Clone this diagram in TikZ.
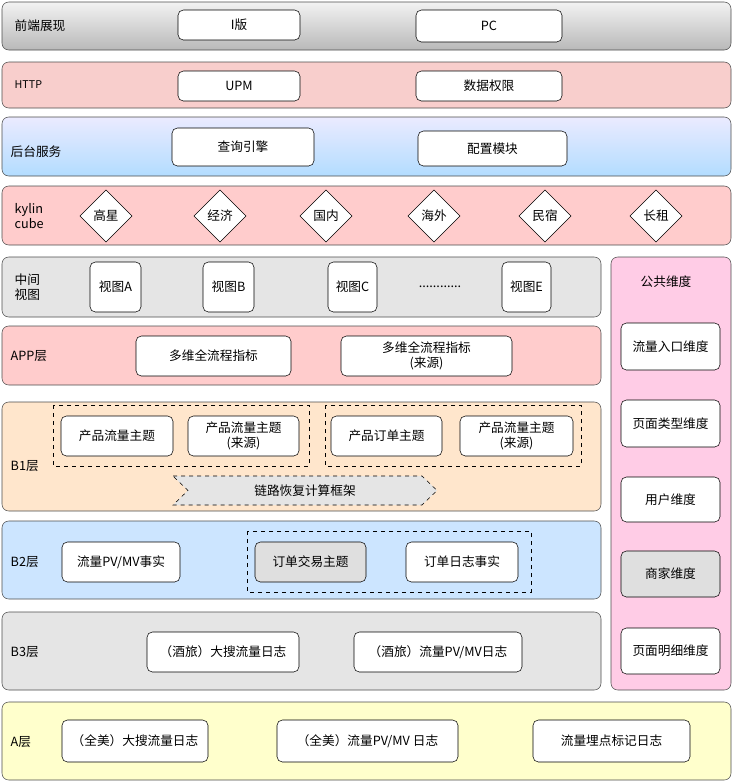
\documentclass[tikz,border=0pt]{standalone}
\usepackage{fontspec}
\setmainfont{Liberation Sans}
\newfontfamily\cjk{Noto Sans CJK SC}
\usetikzlibrary{shapes.geometric,shapes.symbols}
\begin{document}
\begin{tikzpicture}[x=0.75pt,y=-0.75pt,font=\cjk\fontsize{9.5}{11}\selectfont,
 layer/.style={draw=black!70,rounded corners=5pt},
 bx/.style={draw=black,fill=white,rounded corners=4pt,align=center,inner sep=0pt},
 grp/.style={draw=black,dashed},
 dia/.style={draw=black,fill=white,diamond,minimum width=52*0.75pt,minimum height=52*0.75pt,inner sep=0pt},
 lbl/.style={anchor=west,align=left}]
\useasboundingbox (0,0) rectangle (733,783);
\newcommand\bxat[6]{\node[bx,minimum width=(#3-#2)*0.75pt,minimum height=(#5-#4)*0.75pt] (#1) at ({(#2+#3)/2},{(#4+#5)/2}) {#6};}
% layer 1
\path[layer,top color=gray!10,bottom color=gray!55] (2,2) rectangle (731,50);
\node[lbl] (l1) at (10,26) {前端展现};
\bxat{b1a}{178}{300}{10}{40}{I版}
\bxat{b1b}{416}{562}{10}{42}{PC}
% layer 2
\path[layer,fill={rgb,255:red,248;green,206;blue,204}] (2,62) rectangle (731,108);
\node[lbl] (l2) at (10,85) {\fontsize{8}{10}\selectfont HTTP};
\bxat{b2a}{178}{300}{71}{101}{UPM}
\bxat{b2b}{416}{562}{71}{101}{数据权限}
% layer 3
\path[layer,top color=blue!8,bottom color=blue!45!cyan!30] (2,117) rectangle (731,176);
\node[lbl] (l3) at (6,152) {后台服务};
\bxat{b3a}{172}{314}{128}{166}{查询引擎}
\bxat{b3b}{418}{567}{131}{166}{配置模块}
% layer 4
\path[layer,fill={rgb,255:red,255;green,204;blue,204}] (2,186) rectangle (731,245);
\node[lbl] (l4) at (10,216) {kylin\\cube};
\foreach \n/\x/\t in {d1/106/高星,d2/220/经济,d3/326/国内,d4/434/海外,d5/545/民宿,d6/656/长租}
  \node[dia] (\n) at (\x,216) {\t};
% middle view
\path[layer,fill=gray!20] (2,257) rectangle (601,317);
\node[lbl] (l5) at (10,287) {中间\\视图};
\bxat{v1}{90}{141}{262}{312}{视图A}
\bxat{v2}{203}{254}{262}{312}{视图B}
\bxat{v3}{328}{377}{262}{312}{视图C}
\node (dots) at (440,287) {............};
\bxat{v5}{502}{551}{262}{312}{视图E}
% public dims
\path[layer,fill={rgb,255:red,255;green,204;blue,230}] (611,257) rectangle (731,690);
\node (pt) at (666,282) {公共维度};
\bxat{p1}{621}{720}{323}{370}{流量入口维度}
\bxat{p2}{621}{720}{400}{447}{页面类型维度}
\bxat{p3}{621}{720}{477}{522}{用户维度}
\node[bx,fill=gray!25,minimum width=99*0.75pt,minimum height=46*0.75pt] (p4) at (670.5,574) {商家维度};
\bxat{p5}{621}{720}{628}{674}{页面明细维度}
% APP
\path[layer,fill={rgb,255:red,255;green,204;blue,204}] (2,326) rectangle (601,385);
\node[lbl] (l6) at (6,356) {APP层};
\bxat{a1}{136}{291}{336}{376}{多维全流程指标}
\bxat{a2}{341}{512}{336}{376}{多维全流程指标\\(来源)}
% B1
\path[layer,fill={rgb,255:red,255;green,230;blue,204}] (2,402) rectangle (601,511);
\node[lbl] (l7) at (6,466) {B1层};
\draw[grp] (53,405) rectangle (309,466);
\draw[grp] (325,405) rectangle (581,466);
\bxat{c1}{61}{173}{416}{456}{产品流量主题}
\bxat{c2}{188}{299}{416}{456}{产品流量主题\\(来源)}
\bxat{c3}{331}{442}{416}{456}{产品订单主题}
\bxat{c4}{460}{573}{416}{456}{产品流量主题\\(来源)}
\draw[dashed,fill=gray!20] (173,476) -- (422,476) -- (437,490.5) -- (422,505) -- (173,505) -- (188,490.5) -- cycle;
\node (fw) at (305,490.5) {链路恢复计算框架};
% B2
\path[layer,fill={rgb,255:red,204;green,229;blue,255}] (2,521) rectangle (601,599);
\node[lbl] (l8) at (6,562) {B2层};
\bxat{e1}{62}{180}{542}{582}{流量PV/MV事实}
\draw[grp] (247,531) rectangle (531,592);
\node[bx,fill=gray!25,minimum width=111*0.75pt,minimum height=40*0.75pt] (e2) at (310.5,562) {订单交易主题};
\bxat{e3}{406}{518}{542}{582}{订单日志事实}
% B3
\path[layer,fill=gray!20] (2,612) rectangle (601,690);
\node[lbl] (l9) at (6,652) {B3层};
\bxat{f1}{147}{299}{632}{672}{（酒旅）大搜流量日志}
\bxat{f2}{354}{522}{632}{672}{（酒旅）流量PV/MV日志}
% A
\path[layer,fill={rgb,255:red,255;green,255;blue,204}] (2,702) rectangle (731,780);
\node[lbl] (l10) at (6,742) {A层};
\bxat{g1}{62}{208}{720}{762}{（全美）大搜流量日志}
\bxat{g2}{277}{458}{720}{762}{（全美）流量PV/MV 日志}
\bxat{g3}{533}{690}{720}{762}{流量埋点标记日志}
\end{tikzpicture}
\end{document}
